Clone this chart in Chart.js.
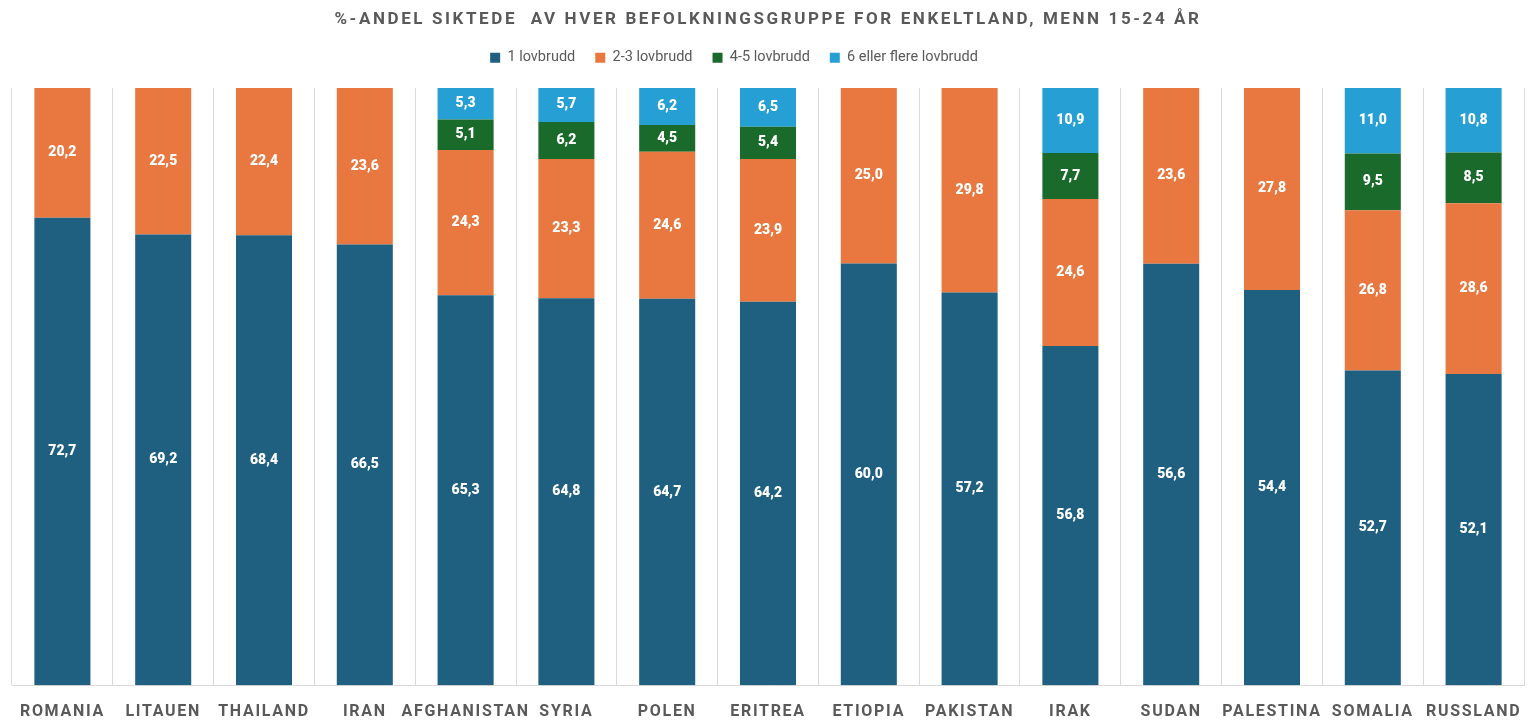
<!DOCTYPE html>
<html>
<head>
<meta charset="utf-8">
<script src="https://cdn.jsdelivr.net/npm/chart.js@4/dist/chart.umd.min.js"></script>
<style>
html,body{margin:0;padding:0;background:#fff;overflow:hidden;}
canvas{display:block;}
</style>
</head>
<body>
<canvas id="c" width="1533" height="727" style="width:1533px;height:727px;"></canvas>
<script>
const categories = ["ROMANIA","LITAUEN","THAILAND","IRAN","AFGHANISTAN","SYRIA","POLEN","ERITREA","ETIOPIA","PAKISTAN","IRAK","SUDAN","PALESTINA","SOMALIA","RUSSLAND"];
const seriesNames = ["1 lovbrudd","2-3 lovbrudd","4-5 lovbrudd","6 eller flere lovbrudd"];
const s1 = [72.7,69.2,68.4,66.5,65.3,64.8,64.7,64.2,60.0,57.2,56.8,56.6,54.4,52.7,52.1];
const s2 = [20.2,22.5,22.4,23.6,24.3,23.3,24.6,23.9,25.0,29.8,24.6,23.6,27.8,26.8,28.6];
const s3 = [null,null,null,null,5.1,6.2,4.5,5.4,null,null,7.7,null,null,9.5,8.5];
const s4 = [null,null,null,null,5.3,5.7,6.2,6.5,null,null,10.9,null,null,11.0,10.8];
const colors = ["#1F5F80","#E87840","#1A6A2C","#259FD4"];
const titleText = "%-ANDEL SIKTEDE  AV HVER BEFOLKNINGSGRUPPE FOR ENKELTLAND, MENN 15-24 ÅR";

const raw = [s1,s2,s3,s4];
const totals = categories.map((_,i)=>raw.reduce((a,s)=>a+(s[i]==null?0:s[i]),0));
const datasets = raw.map((s,k)=>({
  label: seriesNames[k],
  data: s.map((v,i)=> v==null ? null : v/totals[i]*100),
  rawValues: s,
  backgroundColor: colors[k],
  borderWidth: 0,
  barPercentage: 0.556,
  categoryPercentage: 1.0
}));

const tweakPlugin = {
  id: 'tweaks',
  beforeLayout(chart){
    const lg = chart.legend;
    if (lg && !lg._patched){
      const origFit = lg.fit;
      lg.fit = function(){ origFit.apply(this, arguments); if (this.height > 0) this.height += 13; };
      const origDraw = lg.draw;
      lg.draw = function(){ const ctx=this.ctx; ctx.save(); ctx.translate(-34,0); origDraw.apply(this, arguments); ctx.restore(); };
      lg._patched = true;
    }
  },
  beforeDraw(chart){
    const tb = chart.titleBlock;
    if (tb && !tb._spaced){
      const orig = tb.draw;
      tb.draw = function(){ const ctx=this.ctx; ctx.save(); ctx.letterSpacing='2.6px'; orig.apply(this, arguments); ctx.restore(); };
      tb._spaced = true;
    }
    const xs = chart.scales.x;
    if (xs && !xs._spaced){
      const origL = xs.drawLabels;
      xs.drawLabels = function(){ const ctx=this.ctx; ctx.save(); ctx.letterSpacing='1.7px'; origL.apply(this, arguments); ctx.restore(); };
      xs._spaced = true;
    }
  }
};

const labelPlugin = {
  id: 'barLabels',
  afterDatasetsDraw(chart){
    const ctx = chart.ctx;
    ctx.save();
    ctx.font = "900 14px Roboto";
    ctx.fillStyle = "#ffffff";
    ctx.textAlign = "center";
    ctx.textBaseline = "middle";
    chart.data.datasets.forEach((ds, di)=>{
      const meta = chart.getDatasetMeta(di);
      meta.data.forEach((bar, i)=>{
        const v = ds.rawValues[i];
        if (v == null) return;
        const y = (bar.y + bar.base)/2;
        ctx.fillText(v.toFixed(1).replace('.', ','), bar.x, y);
      });
    });
    ctx.restore();
  }
};

new Chart(document.getElementById('c'), {
  type: 'bar',
  data: { labels: categories, datasets },
  options: {
    responsive: false,
    devicePixelRatio: 1,
    animation: false,
    layout: { padding: { left: 12, right: 9, top: 0, bottom: -12.5 } },
    plugins: {
      title: {
        display: true,
        text: titleText,
        color: "#595959",
        font: { family: "Roboto", size: 17, weight: "bold" },
        padding: { top: 10, bottom: 0 }
      },
      legend: {
        display: true,
        position: 'top',
        labels: {
          color: "#595959",
          font: { family: "Roboto", size: 14.5 },
          boxWidth: 10,
          boxHeight: 10,
          padding: 20
        }
      },
      tooltip: { enabled: false }
    },
    scales: {
      x: {
        stacked: true,
        grid: { display: true, color: "#d9d9d9", drawTicks: false, offset: true },
        border: { display: true, color: "#d9d9d9" },
        ticks: { color: "#595959", font: { family: "Roboto", size: 16, weight: "bold" }, padding: 17.5, maxRotation: 0, autoSkip: false }
      },
      y: {
        stacked: true,
        display: false,
        min: 0,
        max: 100
      }
    }
  },
  plugins: [tweakPlugin, labelPlugin]
});
</script>
</body>
</html>
